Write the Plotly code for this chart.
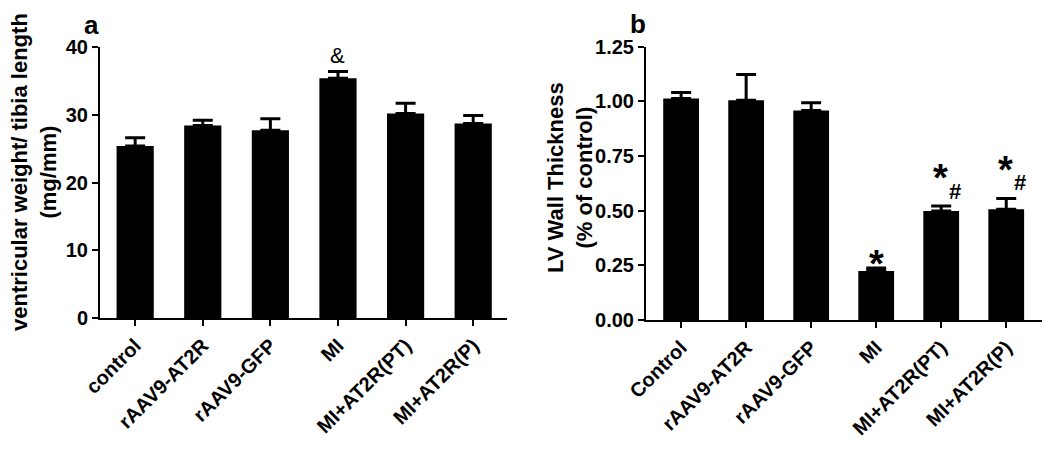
import plotly.graph_objects as go

# ---- data ----
cats_a = ["control", "rAAV9-AT2R", "rAAV9-GFP", "MI", "MI+AT2R(PT)", "MI+AT2R(P)"]
vals_a = [25.4, 28.4, 27.7, 35.4, 30.2, 28.7]
errs_a = [1.2, 0.8, 1.7, 1.0, 1.5, 1.2]

cats_b = ["Control", "rAAV9-AT2R", "rAAV9-GFP", "MI", "MI+AT2R(PT)", "MI+AT2R(P)"]
vals_b = [1.013, 1.005, 0.958, 0.224, 0.498, 0.506]
errs_b = [0.027, 0.118, 0.036, 0.014, 0.023, 0.05]

yticks_a = [0, 10, 20, 30, 40]
yticks_b = [0.0, 0.25, 0.5, 0.75, 1.0, 1.25]
ytext_b = ["0.00", "0.25", "0.50", "0.75", "1.00", "1.25"]

FONT = "Liberation Sans, Arial, sans-serif"
OFF = 8                      # default page body margin
W, H = 1050 - OFF, 453 - OFF


def px(x):   # page x pixel -> paper fraction
    return (x - OFF) / W


def py(y):   # page y pixel -> paper fraction (from bottom)
    return 1 - (y - OFF) / H


fig = go.Figure()
fig.add_trace(go.Bar(
    x=cats_a, y=vals_a, xaxis="x", yaxis="y", width=0.55,
    marker=dict(color="black", line=dict(width=0)),
    error_y=dict(type="data", array=errs_a, arrayminus=[0] * len(errs_a),
                 symmetric=False, color="black", thickness=3, width=10),
    showlegend=False))
fig.add_trace(go.Bar(
    x=cats_b, y=vals_b, xaxis="x2", yaxis="y2", width=0.55,
    marker=dict(color="black", line=dict(width=0)),
    error_y=dict(type="data", array=errs_b, arrayminus=[0] * len(errs_b),
                 symmetric=False, color="black", thickness=3, width=10),
    showlegend=False))

axis_common = dict(showline=True, linecolor="black", linewidth=2, ticks="outside",
                   ticklen=6, tickwidth=2, tickcolor="black", showgrid=False,
                   zeroline=False, automargin=False,
                   tickfont=dict(family=FONT, size=20, color="black", weight="bold"))

fig.update_layout(
    template="none",
    width=W, height=H, margin=dict(l=0, r=0, t=0, b=0, pad=0),
    paper_bgcolor="white", plot_bgcolor="white",
    xaxis=dict(domain=[px(100), px(507)], anchor="y", type="category",
               range=[-0.52, 5.5], tickangle=-45, **axis_common),
    yaxis=dict(domain=[py(318), py(47)], anchor="x",
               range=[0, 40], tickvals=yticks_a, **axis_common),
    xaxis2=dict(domain=[px(646), min(1.0, px(1042))], anchor="y2", type="category",
                range=[-0.54, 5.55], tickangle=-45, **axis_common),
    yaxis2=dict(domain=[py(320), py(46.7)], anchor="x2",
                range=[0, 1.25], tickvals=yticks_b, ticktext=ytext_b, **axis_common),
)

bold = lambda s: dict(family=FONT, size=s, color="black", weight="bold")

ann = [
    # panel labels
    dict(text="a", x=px(91), y=py(25), xref="paper", yref="paper",
         showarrow=False, font=bold(26), xanchor="center", yanchor="middle"),
    dict(text="b", x=px(638), y=py(24), xref="paper", yref="paper",
         showarrow=False, font=bold(26), xanchor="center", yanchor="middle"),
    # axis titles
    dict(text="ventricular weight/ tibia length<br>(mg/mm)", x=px(34), y=py(172),
         xref="paper", yref="paper", showarrow=False, textangle=-90, font=bold(22),
         xanchor="center", yanchor="middle"),
    dict(text="LV Wall Thickness<br>(% of control)", x=px(570), y=py(178),
         xref="paper", yref="paper", showarrow=False, textangle=-90, font=bold(22),
         xanchor="center", yanchor="middle"),
    # significance markers
    dict(text="&", x="MI", y=38.7, xref="x", yref="y", showarrow=False,
         font=dict(family=FONT, size=22, color="black"), xanchor="center", yanchor="middle"),
    dict(text="*", x="MI", y=0.255, xref="x2", yref="y2", showarrow=False,
         font=bold(38), xanchor="center", yanchor="middle"),
    dict(text="*", x="MI+AT2R(PT)", y=0.65, xref="x2", yref="y2", showarrow=False,
         font=bold(38), xanchor="center", yanchor="middle", xshift=-1),
    dict(text="#", x="MI+AT2R(PT)", y=0.59, xref="x2", yref="y2", showarrow=False,
         font=bold(22), xanchor="center", yanchor="middle", xshift=14),
    dict(text="*", x="MI+AT2R(P)", y=0.685, xref="x2", yref="y2", showarrow=False,
         font=bold(38), xanchor="center", yanchor="middle", xshift=-1),
    dict(text="#", x="MI+AT2R(P)", y=0.627, xref="x2", yref="y2", showarrow=False,
         font=bold(22), xanchor="center", yanchor="middle", xshift=14),
]
fig.update_layout(annotations=ann)

fig.write_html("out.html")
